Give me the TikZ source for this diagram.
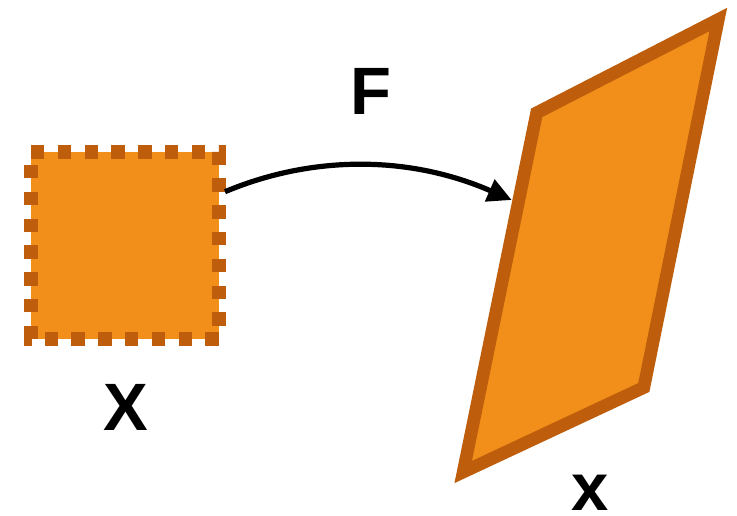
\documentclass[tikz,border=0pt]{standalone}
\usepackage{fontspec}
\setmainfont{Liberation Sans}
\usetikzlibrary{arrows.meta}

\definecolor{shapefill}{RGB}{241,143,26}
\definecolor{shapeline}{RGB}{190,94,13}

\tikzset{
  srcshape/.style={fill=shapefill, draw=shapeline, line width=13.4pt,
                 dash pattern=on 13.4pt off 13.4pt, line join=miter},
  imgshape/.style={fill=shapefill, draw=shapeline, line width=12.7pt, line join=miter},
  mapline/.style={line width=5.2pt, -{Triangle[length=24pt,width=23pt]}},
  labeltext/.style={inner sep=0pt, anchor=base, font=\bfseries\fontsize{67}{67}\selectfont}
}

\begin{document}
\begin{tikzpicture}[x=1pt, y=-1pt]
  \useasboundingbox[fill=white] (0,0) rectangle (737,515);

  % source square with dashed border
  \coordinate (sqTL) at (31,152);
  \coordinate (sqTR) at (219,152);
  \coordinate (sqBR) at (219,339);
  \coordinate (sqBL) at (31,339);
  \path[srcshape] (sqTL) -- (sqTR) -- (sqBR) -- (sqBL) -- cycle;

  % transformed parallelogram
  \coordinate (pTR) at (718.3,19.5);
  \coordinate (pTL) at (536.7,112.8);
  \coordinate (pBL) at (463.2,472);
  \coordinate (pBR) at (643.8,387.5);
  \path[imgshape] (pTL) -- (pTR) -- (pBR) -- (pBL) -- cycle;

  % the map F
  \coordinate (from) at (225,191.7);
  \coordinate (to) at (511.7,200);
  \draw[mapline] (from) .. controls (315,154) and (411.5,156.3) .. (to);

  % labels
  \node[labeltext] (lblF) at (370.5,114) {F};
  \node[labeltext] (lblX) at (125.5,430) {X};
  \node[labeltext] (lblx) at (590,510.5) {x};
\end{tikzpicture}
\end{document}
